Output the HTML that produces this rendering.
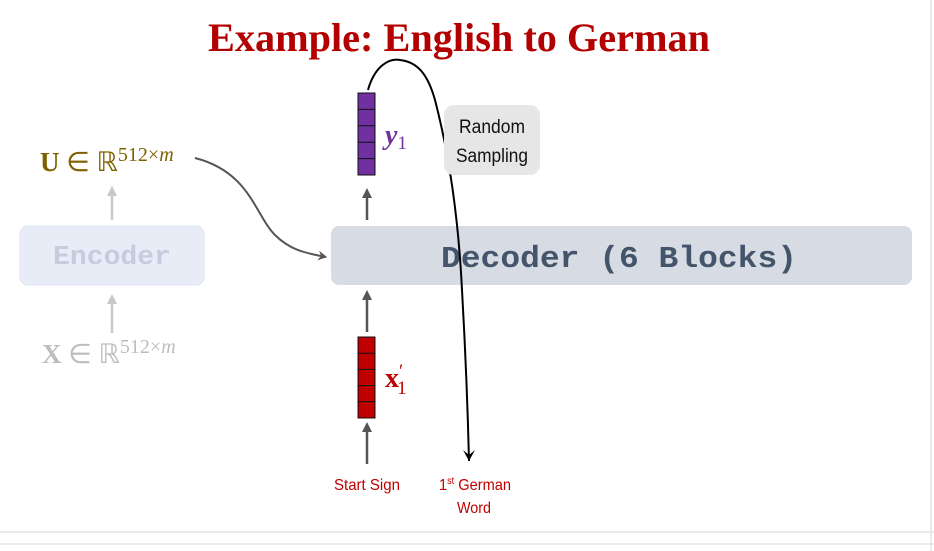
<!DOCTYPE html>
<html><head><meta charset="utf-8"><style>
html,body{margin:0;padding:0;background:#fff;}
svg{display:block;}
</style></head><body>
<svg width="934" height="551" viewBox="0 0 934 551" xmlns="http://www.w3.org/2000/svg">
<defs>
<marker id="ag" markerWidth="10" markerHeight="10" refX="8" refY="5" orient="auto" markerUnits="userSpaceOnUse"><path d="M0,0 L9,5 L0,10 L3,5 z" fill="#555"/></marker>
<marker id="ak" markerWidth="12" markerHeight="12" refX="6" refY="11" orient="0" markerUnits="userSpaceOnUse"><path d="M0,0 L6,11 L12,0 L6,5 z" fill="#000"/></marker>
</defs>
<line x1="931" y1="0" x2="931" y2="551" stroke="#e0e3e8" stroke-width="1.5"/>
<line x1="0" y1="532" x2="934" y2="532" stroke="#e0e3e8" stroke-width="1.5"/>
<line x1="0" y1="544" x2="934" y2="544" stroke="#e0e3e8" stroke-width="1.5"/>

<text x="459" y="51" text-anchor="middle" font-family="Liberation Serif, serif" font-weight="bold" font-size="40" fill="#b30000" textLength="502" lengthAdjust="spacingAndGlyphs">Example: English to German</text>

<!-- encoder -->
<rect x="20" y="226" width="184" height="59" rx="8" fill="#e8ecf7" stroke="#dde3f0"/>
<text x="112" y="264" text-anchor="middle" font-family="Liberation Mono, monospace" font-weight="bold" font-size="27" fill="#c6ccdf" textLength="118" lengthAdjust="spacingAndGlyphs">Encoder</text>
<line x1="112" y1="220" x2="112" y2="192" stroke="#c8c8c8" stroke-width="2.5"/>
<path d="M107,196 L112,186 L117,196 z" fill="#c8c8c8"/>
<line x1="112" y1="333" x2="112" y2="300" stroke="#c8c8c8" stroke-width="2.5"/>
<path d="M107,304 L112,294 L117,304 z" fill="#c8c8c8"/>
<text x="40" y="171" font-family="Liberation Serif, serif" font-size="27" fill="#7f6000"><tspan font-weight="bold">U</tspan> ∈ ℝ<tspan font-size="20" dy="-10">512×<tspan font-style="italic">m</tspan></tspan></text>
<text x="42" y="363" font-family="Liberation Serif, serif" font-size="27" fill="#bdbdbd"><tspan font-weight="bold">X</tspan> ∈ ℝ<tspan font-size="20" dy="-10">512×<tspan font-style="italic">m</tspan></tspan></text>
<path d="M195,158 C250,172 255,215 275,235 C290,250 305,253 326,257" fill="none" stroke="#555" stroke-width="2" marker-end="url(#ag)"/>

<!-- decoder -->
<rect x="331" y="226" width="581" height="59" rx="8" fill="#d6dbe4"/>
<text x="619" y="267" text-anchor="middle" font-family="Liberation Mono, monospace" font-weight="bold" font-size="31" fill="#44546a" textLength="356" lengthAdjust="spacingAndGlyphs">Decoder (6 Blocks)</text>

<!-- arrows -->
<line x1="367" y1="220" x2="367" y2="196" stroke="#555" stroke-width="2.5"/>
<path d="M362,198 L367,188 L372,198 z" fill="#555"/>
<line x1="367" y1="332" x2="367" y2="298" stroke="#555" stroke-width="2.5"/>
<path d="M362,300 L367,290 L372,300 z" fill="#555"/>
<line x1="367" y1="464" x2="367" y2="430" stroke="#555" stroke-width="2.5"/>
<path d="M362,432 L367,422 L372,432 z" fill="#555"/>

<g stroke="#111" stroke-width="1">
<rect x="358" y="93" width="17" height="82" fill="#7030a0"/>
<line x1="358" y1="109.4" x2="375" y2="109.4"/><line x1="358" y1="125.8" x2="375" y2="125.8"/><line x1="358" y1="142.2" x2="375" y2="142.2"/><line x1="358" y1="158.6" x2="375" y2="158.6"/>
<rect x="358" y="337" width="17" height="81" fill="#c00000"/>
<line x1="358" y1="353.2" x2="375" y2="353.2"/><line x1="358" y1="369.4" x2="375" y2="369.4"/><line x1="358" y1="385.6" x2="375" y2="385.6"/><line x1="358" y1="401.8" x2="375" y2="401.8"/>
</g>
<text x="385" y="144" font-family="Liberation Serif, serif" font-size="28" font-weight="bold" font-style="italic" fill="#7030a0">y<tspan font-size="19" font-weight="normal" font-style="normal" dy="5">1</tspan></text>
<text x="385" y="387" font-family="Liberation Serif, serif" font-size="28" font-weight="bold" fill="#c00000">x<tspan font-size="19" font-weight="normal" dy="-10">′</tspan><tspan font-size="19" font-weight="normal" dx="-6" dy="17">1</tspan></text>

<path d="M368,90 C375,65 390,58 400,60 C418,62 428,75 435,100 C448,150 458,210 462,290 C466,360 468,420 469,461" fill="none" stroke="#000" stroke-width="2" marker-end="url(#ak)"/>
<rect x="444" y="105" width="96" height="70" rx="10" fill="#e6e6e6"/>
<text x="492" y="133" text-anchor="middle" font-family="Liberation Sans, sans-serif" font-size="19" fill="#111" textLength="66" lengthAdjust="spacingAndGlyphs">Random</text>
<text x="492" y="162" text-anchor="middle" font-family="Liberation Sans, sans-serif" font-size="19" fill="#111" textLength="72" lengthAdjust="spacingAndGlyphs">Sampling</text>

<text x="367" y="490" text-anchor="middle" font-family="Liberation Sans, sans-serif" font-size="16" fill="#c00000" textLength="66" lengthAdjust="spacingAndGlyphs">Start Sign</text>
<text x="475" y="490" text-anchor="middle" font-family="Liberation Sans, sans-serif" font-size="16" fill="#c00000" textLength="72" lengthAdjust="spacingAndGlyphs">1<tspan font-size="10" dy="-6">st</tspan><tspan dy="6"> German</tspan></text>
<text x="474" y="513" text-anchor="middle" font-family="Liberation Sans, sans-serif" font-size="16" fill="#c00000" textLength="34" lengthAdjust="spacingAndGlyphs">Word</text>
</svg>
</body></html>
